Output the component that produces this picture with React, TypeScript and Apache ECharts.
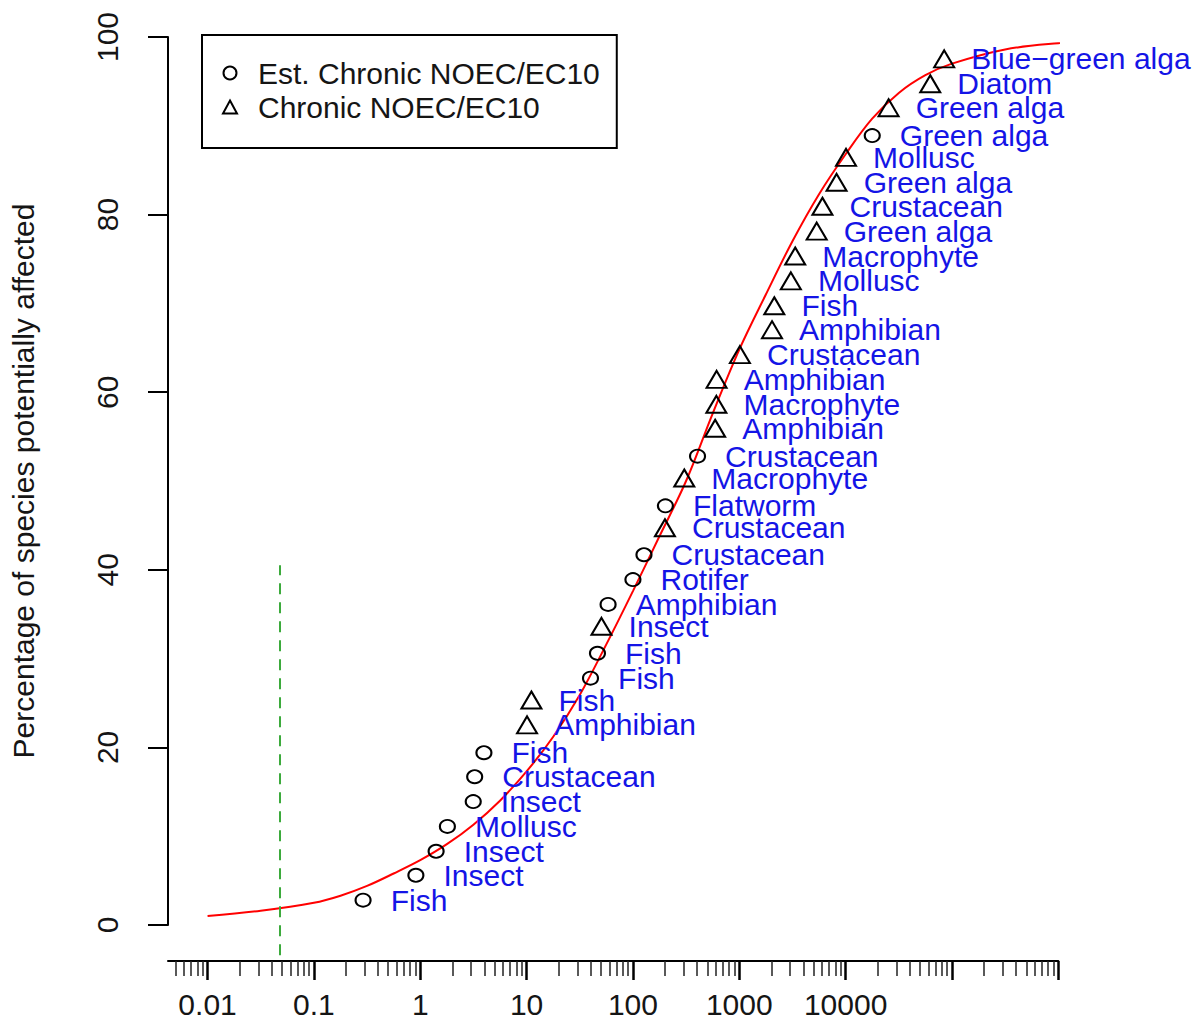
import React, { useEffect, useRef } from "react";
import * as echarts from "echarts";

// Estimated chronic NOEC/EC10 (open circles)
const EST_SPECIES = ["Fish", "Insect", "Insect", "Mollusc", "Insect", "Crustacean", "Fish", "Fish", "Fish", "Amphibian", "Rotifer", "Crustacean", "Flatworm", "Crustacean", "Green alga"];
const EST_CONC = [0.29, 0.91, 1.41, 1.8, 3.15, 3.25, 3.97, 39.9, 46.4, 58.4, 100, 127, 202, 405, 17800];
const EST_PCT = [2.8, 5.6, 8.3, 11.1, 13.9, 16.7, 19.4, 27.8, 30.6, 36.1, 38.9, 41.7, 47.2, 52.8, 88.9];

// Chronic NOEC/EC10 (open triangles)
const CHR_SPECIES = ["Amphibian", "Fish", "Insect", "Crustacean", "Macrophyte", "Amphibian", "Macrophyte", "Amphibian", "Crustacean", "Amphibian", "Fish", "Mollusc", "Macrophyte", "Green alga", "Crustacean", "Green alga", "Mollusc", "Green alga", "Diatom", "Blue\u2212green alga"];
const CHR_CONC = [10.1, 11.1, 50.6, 200, 304, 593, 609, 612, 1014, 2032, 2135, 3055, 3357, 5346, 6053, 8222, 10090, 25350, 62500, 84500];
const CHR_PCT = [22.2, 25.0, 33.3, 44.4, 50.0, 55.6, 58.3, 61.1, 63.9, 66.7, 69.4, 72.2, 75.0, 77.8, 80.6, 83.3, 86.1, 91.7, 94.4, 97.2];

// Fitted species sensitivity curve
const CURVE_CONC = [0.01, 0.0316, 0.1, 0.178, 0.316, 0.562, 1, 1.78, 3.16, 5.62, 10, 17.8, 31.6, 56.2, 100, 178, 316, 562, 1000, 1778, 3162, 5623, 10000, 17780, 31620, 56230, 100000, 316200, 1000000, 3162000, 10000000, 18600000];
const CURVE_PCT = [1.0, 1.6, 2.5, 3.3, 4.4, 5.8, 7.3, 9.1, 11.3, 14.0, 17.3, 21.2, 25.9, 31.6, 37.6, 43.8, 50.0, 57.6, 64.8, 71.0, 77.0, 82.3, 86.8, 90.8, 93.7, 95.7, 97.0, 98.6, 99.3, 99.7, 99.9, 100];

// Vertical guide (dashed green)
const GUIDE_CONC = [0.048, 0.048];
const GUIDE_PCT = [-3.4, 40.5];

// Axis ticks
const X_LABEL_VALUES = [0.01, 0.1, 1, 10, 100, 1000, 10000];
const X_LABELS = ["0.01", "0.1", "1", "10", "100", "1000", "10000"];
const X_MAJOR_VALUES = [0.01, 0.1, 1, 10, 100, 1000, 10000, 100000, 1000000];
const X_MINOR_MULT = [2, 3, 4, 5, 6, 7, 8, 9];
const X_MINOR_DECADES = [0.001, 0.01, 0.1, 1, 10, 100, 1000, 10000, 100000];
const Y_TICKS = [0, 20, 40, 60, 80, 100];

const FONT = "'Liberation Sans', Arial, sans-serif";
const TXT = "#151515";
const BLUE = "#1414E6";

export default function App() {
  const ref = useRef<HTMLDivElement>(null);
  useEffect(() => {
    const el = ref.current!;
    const chart = echarts.init(el, null, { renderer: "svg" });
    const lg = (v: number) => Math.log10(v);
    const minor: number[] = [];
    X_MINOR_DECADES.forEach((d) => X_MINOR_MULT.forEach((m) => minor.push(lg(m * d))));
    const labelVals = X_LABEL_VALUES.map(lg);
    const xMin = -2.372;
    const xMax = 6;

    const estData = EST_CONC.map((c, i) => ({ name: EST_SPECIES[i], value: [lg(c), EST_PCT[i]] }));
    const chrData = CHR_CONC.map((c, i) => ({ name: CHR_SPECIES[i], value: [lg(c), CHR_PCT[i]] }));
    const curveData = CURVE_CONC.map((c, i) => [lg(c), CURVE_PCT[i]]);
    const guideData = GUIDE_CONC.map((c, i) => [lg(c), GUIDE_PCT[i]]);

    const pointLabel = (dist: number) => ({
      show: true,
      position: "right",
      distance: dist,
      formatter: "{b}",
      color: BLUE,
      fontSize: 30,
      fontFamily: FONT,
    });

    const option = {
      animation: false,
      backgroundColor: "#ffffff",
      textStyle: { fontFamily: FONT },
      grid: { left: 162, top: 37, width: 896.3, height: 888, containLabel: false },
      legend: {
        orient: "vertical",
        left: 202,
        top: 35,
        selectedMode: false,
        borderColor: "#000",
        borderWidth: 2,
        borderRadius: 0,
        padding: [23, 17, 26, 20],
        itemGap: 4,
        itemWidth: 14,
        itemHeight: 13,
        textStyle: { fontSize: 30, color: TXT, fontFamily: FONT, padding: [0, 0, 0, 16] },
        data: [
          { name: "Est. Chronic NOEC/EC10", icon: "circle", itemStyle: { color: "rgba(0,0,0,0)", borderColor: "#000", borderWidth: 2 } },
          { name: "Chronic NOEC/EC10", icon: "triangle", itemStyle: { color: "rgba(0,0,0,0)", borderColor: "#000", borderWidth: 2 } },
        ],
      },
      xAxis: [
        {
          type: "value",
          min: xMin,
          max: xMax,
          position: "bottom",
          offset: 36,
          splitLine: { show: false },
          axisLine: { show: true, onZero: false, lineStyle: { color: "#000", width: 2 } },
          axisTick: { show: true, length: 19, customValues: X_MAJOR_VALUES.map(lg), lineStyle: { color: "#000", width: 2.5 } },
          axisLabel: {
            show: true,
            customValues: labelVals,
            margin: 28,
            fontSize: 30,
            color: TXT,
            fontFamily: FONT,
            formatter: (v: number) => {
              const idx = labelVals.findIndex((t) => Math.abs(t - v) < 1e-6);
              return idx >= 0 ? X_LABELS[idx] : "";
            },
          },
        },
        {
          type: "value",
          min: xMin,
          max: xMax,
          position: "bottom",
          offset: 36,
          splitLine: { show: false },
          axisLine: { show: false, onZero: false },
          axisTick: { show: true, length: 15, customValues: minor, lineStyle: { color: "#222", width: 1.5 } },
          axisLabel: { show: false },
        },
      ],
      yAxis: {
        type: "value",
        min: 0,
        max: 100,
        interval: 20,
        splitLine: { show: false },
        axisLine: { show: true, onZero: false, lineStyle: { color: "#000", width: 2 } },
        axisTick: { show: true, length: 20, customValues: Y_TICKS, lineStyle: { color: "#000", width: 2 } },
        axisLabel: { rotate: 90, margin: 46, fontSize: 30, color: TXT, fontFamily: FONT },
        name: "Percentage of species potentially affected",
        nameLocation: "middle",
        nameRotate: 90,
        nameGap: 130,
        nameTextStyle: { fontSize: 30, color: TXT, fontFamily: FONT },
      },
      series: [
        {
          name: "SSD curve",
          type: "line",
          data: curveData,
          smooth: 0.35,
          showSymbol: false,
          symbol: "none",
          clip: false,
          silent: true,
          lineStyle: { color: "#ff0000", width: 2 },
          z: 1,
        },
        {
          name: "Guide",
          type: "line",
          data: guideData,
          showSymbol: false,
          symbol: "none",
          clip: false,
          silent: true,
          lineStyle: { color: "#3CAA3C", width: 2, type: [11, 8] },
          z: 1,
        },
        {
          name: "Est. Chronic NOEC/EC10",
          type: "scatter",
          data: estData,
          symbol: "circle",
          symbolSize: [15, 13],
          clip: false,
          silent: true,
          itemStyle: { color: "rgba(0,0,0,0)", borderColor: "#000", borderWidth: 2, opacity: 1 },
          label: pointLabel(19),
          z: 3,
        },
        {
          name: "Chronic NOEC/EC10",
          type: "scatter",
          data: chrData,
          symbol: "triangle",
          symbolSize: [20, 17],
          symbolOffset: [0, -3],
          clip: false,
          silent: true,
          itemStyle: { color: "rgba(0,0,0,0)", borderColor: "#000", borderWidth: 2, opacity: 1 },
          label: pointLabel(16),
          z: 3,
        },
      ],
    };
    chart.setOption(option as any);
    return () => chart.dispose();
  }, []);
  return (
    <div
      ref={ref}
      style={{ position: "absolute", left: 0, top: 0, width: 1198, height: 1032, background: "#fff" }}
    />
  );
}
